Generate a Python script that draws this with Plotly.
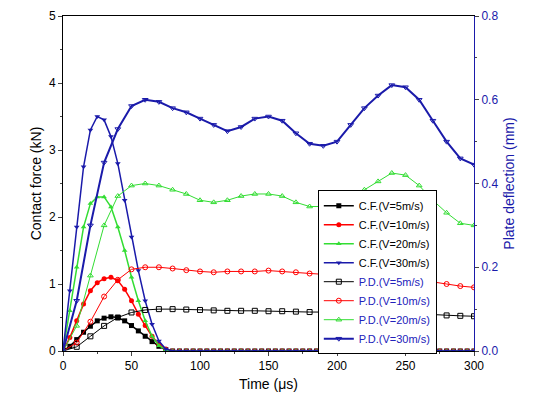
import plotly.graph_objects as go

t_cf = list(range(0, 305, 5))
cf5 = [0,0.07,0.17,0.28,0.37,0.45,0.49,0.51,0.5,0.45,0.38,0.3,0.22,0.14,0.07,0.02] + [0]*45
cf10 = [0,0.2,0.45,0.7,0.9,1.02,1.08,1.1,1.05,0.92,0.75,0.55,0.38,0.22,0.1,0.03] + [0]*45
cf20 = [0,0.6,1.25,1.85,2.2,2.3,2.3,2.15,1.85,1.5,1.1,0.75,0.45,0.22,0.08,0.02] + [0]*45
cf30 = [0,0.9,1.85,2.75,3.3,3.5,3.45,3.2,2.8,2.25,1.7,1.2,0.75,0.4,0.15,0.03] + [0]*45

t_pd = list(range(0, 310, 10))
pd5 = [0,0.01,0.035,0.06,0.08,0.092,0.098,0.1,0.1,0.099,0.098,0.097,0.096,0.096,0.096,0.095,0.095,0.094,0.093,0.093,0.094,0.095,0.096,0.096,0.095,0.093,0.09,0.087,0.085,0.084,0.083]
pd10 = [0,0.02,0.07,0.13,0.17,0.195,0.2,0.2,0.197,0.193,0.19,0.188,0.19,0.19,0.19,0.192,0.19,0.188,0.185,0.183,0.185,0.19,0.192,0.195,0.193,0.185,0.175,0.165,0.16,0.155,0.152]
pd20 = [0,0.06,0.18,0.3,0.37,0.395,0.4,0.395,0.385,0.375,0.36,0.355,0.36,0.37,0.375,0.375,0.37,0.355,0.345,0.345,0.35,0.365,0.385,0.405,0.425,0.42,0.395,0.36,0.33,0.305,0.3]
pd30 = [0,0.12,0.3,0.45,0.53,0.585,0.6,0.595,0.58,0.57,0.555,0.54,0.525,0.535,0.555,0.56,0.55,0.52,0.495,0.49,0.5,0.54,0.58,0.61,0.635,0.63,0.6,0.55,0.5,0.46,0.445]

colors = ["black", "red", "#33dd33", "#1a1aaa"]
labels = ["V=5m/s", "V=10m/s", "V=20m/s", "V=30m/s"]
fig = go.Figure()
for ys, c, l, sym in zip([cf5, cf10, cf20, cf30], colors, labels,
                         ["square", "circle", "triangle-up", "triangle-down"]):
    fig.add_trace(go.Scatter(x=t_cf, y=ys, mode="lines+markers", name=f"C.F.({l})",
                             line=dict(color=c, width=1.5), marker=dict(symbol=sym, size=5, color=c)))
for ys, c, l, sym in zip([pd5, pd10, pd20, pd30], colors, labels,
                         ["square-open", "circle-open", "triangle-up-open", "triangle-down-open"]):
    fig.add_trace(go.Scatter(x=t_pd, y=ys, mode="lines+markers", yaxis="y2",
                             name=f'<span style="color:#2222bb">P.D.({l})</span>',
                             line=dict(color=c, width=1 if c != "#1a1aaa" else 2),
                             marker=dict(symbol=sym, size=5, color=c)))
fig.update_layout(
    width=543, height=413, margin=dict(l=55, r=77, t=8, b=70, autoexpand=False),
    plot_bgcolor="white", paper_bgcolor="white",
    font=dict(family="Liberation Sans, Arial", size=12, color="black"),
    xaxis=dict(range=[0, 300], dtick=50, showgrid=False, zeroline=False, showline=True,
               linecolor="black", ticks="outside", ticklen=4, automargin=False,
               minor=dict(ticks="outside", ticklen=2, dtick=25),
               title=dict(text="Time (μs)", standoff=6), mirror=True),
    yaxis=dict(range=[0, 5], dtick=1, showgrid=False, zeroline=False, showline=True,
               linecolor="black", ticks="outside", ticklen=4, automargin=False,
               minor=dict(ticks="outside", ticklen=2, dtick=0.5),
               title=dict(text="Contact force (kN)", standoff=4)),
    yaxis2=dict(range=[0, 0.8], dtick=0.2, tickformat=".1f", overlaying="y", side="right",
                showgrid=False, zeroline=False, showline=True, linecolor="#1a1aaa",
                ticks="outside", ticklen=4, tickfont=dict(color="#1a1aaa"), automargin=False,
                minor=dict(ticks="outside", ticklen=2, dtick=0.1),
                title=dict(text="Plate deflection (mm)", font=dict(color="#1a1aaa"), standoff=6)),
    legend=dict(x=0.62, y=0.48, xanchor="left", yanchor="top", bgcolor="white",
                bordercolor="black", borderwidth=1, font=dict(size=11),
                tracegroupgap=0, itemwidth=30),
)
fig.write_html("out.html")
